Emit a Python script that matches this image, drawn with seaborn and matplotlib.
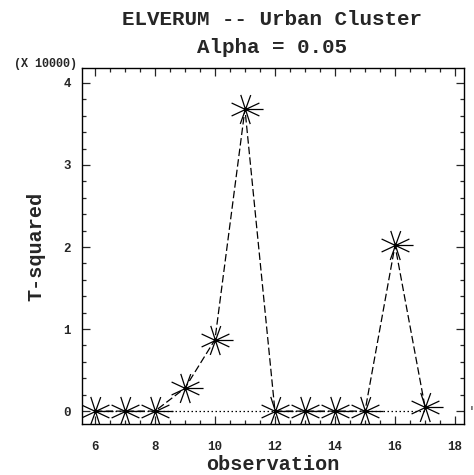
import matplotlib
matplotlib.use("Agg")
import matplotlib.pyplot as plt
from matplotlib.path import Path
from matplotlib.ticker import MultipleLocator
import numpy as np
import pandas as pd
import seaborn as sns

# T-squared statistic per observation (in units of 10000)
observation = [6, 7, 8, 9, 10, 11, 12, 13, 14, 15, 16, 17]
t_squared = [0.0, 0.0, 0.0, 0.28, 0.87, 3.68, 0.0, 0.0, 0.0, 0.0, 2.02, 0.05]
# control limit (same scale), drawn across the observed range
ucl = 0.0
ucl_range = [6, 17]

title_lines = ["ELVERUM -- Urban Cluster", "Alpha = 0.05"]
scale_note = "(X 10000)"

sns.set_style("ticks")
plt.rcParams["font.family"] = ["Liberation Mono", "DejaVu Sans"]
plt.rcParams["font.weight"] = "bold"

df = pd.DataFrame({"observation": observation, "T-squared": t_squared})

# asterisk-like marker with a long horizontal stroke to the right
def star_marker():
    verts, codes = [], []
    verts += [(0, 0), (1.0, 0)]
    codes += [Path.MOVETO, Path.LINETO]
    for ang in (25, 155, 70, 108):
        a = np.deg2rad(ang)
        r = 0.85
        verts += [(-r * np.cos(a), -r * np.sin(a)), (r * np.cos(a), r * np.sin(a))]
        codes += [Path.MOVETO, Path.LINETO]
    return Path(verts, codes)

fig = plt.figure(figsize=(4.74, 4.75), dpi=100)
ax = fig.add_axes([0.173, 0.107, 0.806, 0.750])

ax.plot(ucl_range, [ucl, ucl], color="black", linestyle=(0, (1.2, 2.0)), linewidth=0.9)

sns.lineplot(data=df, x="observation", y="T-squared", ax=ax, color="black",
             linestyle=(0, (6, 2.5)), linewidth=0.9,
             marker=star_marker(), markersize=26, markerfacecolor="none",
             markeredgecolor="black", markeredgewidth=0.9)

ax.set_xlim(5.57, 18.3)
ax.set_ylim(-0.159, 4.183)
ax.xaxis.set_major_locator(MultipleLocator(2))
ax.xaxis.set_minor_locator(MultipleLocator(0.5))
ax.yaxis.set_major_locator(MultipleLocator(1))
ax.yaxis.set_minor_locator(MultipleLocator(0.2))
ax.tick_params(which="both", direction="in", top=True, right=True, width=0.9)
ax.tick_params(which="major", length=5.5)
ax.tick_params(which="minor", length=3)
ax.tick_params(axis="x", which="major", pad=12, labelsize=9)
ax.tick_params(axis="y", which="major", pad=8, labelsize=9)
for lab in ax.get_xticklabels() + ax.get_yticklabels():
    lab.set_fontweight("bold")
for sp in ax.spines.values():
    sp.set_linewidth(1.0)
    sp.set_color("black")

ax.set_xlabel("observation", fontsize=14.5, fontweight="bold", va="center")
ax.xaxis.set_label_coords(0.5, -0.113)
ax.set_ylabel("T-squared", fontsize=14.5, fontweight="bold", va="center")
ax.yaxis.set_label_coords(-0.121, 0.5)

fig.text(0.574, 0.958, title_lines[0], ha="center", va="center", fontsize=15, fontweight="bold")
fig.text(0.574, 0.901, title_lines[1], ha="center", va="center", fontsize=15, fontweight="bold")
fig.text(0.095, 0.866, scale_note, ha="center", va="center", fontsize=8.5, fontweight="bold")
ax.annotate("'", xy=(1.02, ucl), xycoords=("axes fraction", "data"),
            ha="center", va="center", fontsize=7)

fig.savefig("out.png", dpi=100)
